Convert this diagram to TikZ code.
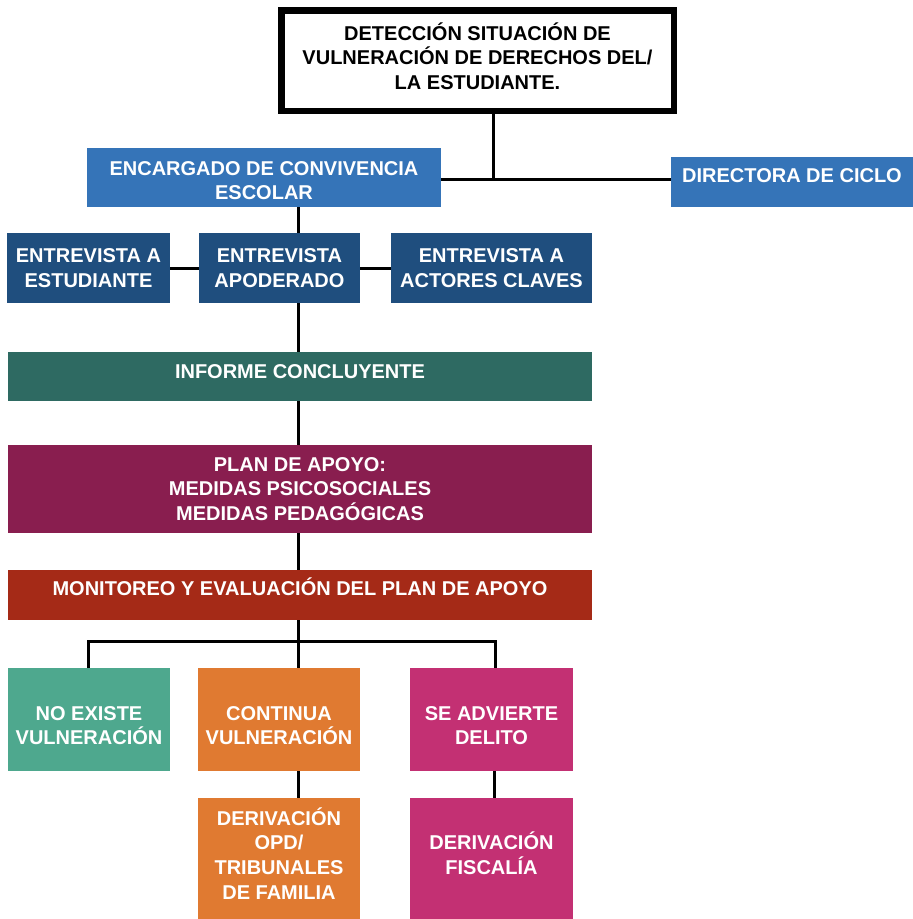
\documentclass[tikz,border=0pt]{standalone}
\usepackage{fontspec}
\setmainfont{Liberation Sans}
\definecolor{cblue}{RGB}{53,116,184}
\definecolor{cdblue}{RGB}{31,78,126}
\definecolor{cteal}{RGB}{46,106,98}
\definecolor{cplum}{RGB}{137,30,79}
\definecolor{crust}{RGB}{165,42,23}
\definecolor{cgreen}{RGB}{78,168,142}
\definecolor{corange}{RGB}{224,122,49}
\definecolor{cpink}{RGB}{195,48,115}
\newcommand{\up}[1]{\rule[-#1pt]{0pt}{0pt}}
\newcommand{\dn}[1]{\rule{0pt}{#1pt}}
\begin{document}
\begin{tikzpicture}[x=1pt,y=-1pt,
  box/.style={inner sep=0pt, outer sep=0pt, align=center, text=white,
    font=\fontsize{20}{24.8}\selectfont\bfseries},
  topbox/.style={box, draw=black, line width=6.5pt, fill=white, text=black},
  conn/.style={line width=3pt, black}]
\useasboundingbox (0,0) rectangle (913,919);
% nodes
\node[topbox, minimum width=392.5, minimum height=100.5] (top) at (477.5,60.5)
  {DETECCIÓN SITUACIÓN DE\\VULNERACIÓN DE DERECHOS DEL/\\LA ESTUDIANTE.\up{9}};
\node[box, fill=cblue, minimum width=354, minimum height=59] (enc) at (264,177.5)
  {\dn{20}ENCARGADO DE CONVIVENCIA\\ESCOLAR};
\node[box, fill=cblue, minimum width=242, minimum height=50] (dir) at (792,182)
  {DIRECTORA DE CICLO\up{13}};
\node[box, fill=cdblue, minimum width=163, minimum height=70] (est) at (88.5,268)
  {ENTREVISTA A\\ESTUDIANTE};
\node[box, fill=cdblue, minimum width=161, minimum height=70] (apo) at (279.5,268)
  {ENTREVISTA\\APODERADO};
\node[box, fill=cdblue, minimum width=201, minimum height=70] (act) at (491.5,268)
  {ENTREVISTA A\\ACTORES CLAVES};
\node[box, fill=cteal, minimum width=584, minimum height=49] (inf) at (300,376.5)
  {INFORME CONCLUYENTE\up{9}};
\node[box, fill=cplum, minimum width=584, minimum height=88] (plan) at (300,489)
  {PLAN DE APOYO:\\MEDIDAS PSICOSOCIALES\\MEDIDAS PEDAGÓGICAS};
\node[box, fill=crust, minimum width=584, minimum height=50] (mon) at (300,595)
  {MONITOREO Y EVALUACIÓN DEL PLAN DE APOYO\up{16}};
\node[box, fill=cgreen, minimum width=162, minimum height=103] (ne) at (89,719.5)
  {\dn{26}NO EXISTE\\VULNERACIÓN};
\node[box, fill=corange, minimum width=162, minimum height=103] (co) at (279,719.5)
  {\dn{26}CONTINUA\\VULNERACIÓN};
\node[box, fill=cpink, minimum width=163, minimum height=103] (se) at (491.5,719.5)
  {\dn{26}SE ADVIERTE\\DELITO};
\node[box, fill=corange, minimum width=162, minimum height=121] (opd) at (279,858.5)
  {DERIVACIÓN\\OPD/\\TRIBUNALES\\DE FAMILIA\up{10}};
\node[box, fill=cpink, minimum width=163, minimum height=121] (fis) at (491.5,858.5)
  {DERIVACIÓN\\FISCALÍA\up{10}};
% junction coordinates
\coordinate (jx) at (493,179);
\coordinate (sp) at (298,0);
\coordinate (bl) at (88,641);
\coordinate (bc) at (298,641);
\coordinate (br) at (495,641);
\coordinate (fx) at (494,0);
% connectors
\draw[conn] (top.south -| jx) -- (jx);
\draw[conn] (enc.east |- jx) -- (dir.west |- jx);
\draw[conn] (enc.south -| sp) -- (apo.north -| sp);
\draw[conn] (est.east) -- (apo.west);
\draw[conn] (apo.east) -- (act.west);
\draw[conn] (apo.south -| sp) -- (inf.north -| sp);
\draw[conn] (inf.south -| sp) -- (plan.north -| sp);
\draw[conn] (plan.south -| sp) -- (mon.north -| sp);
\draw[conn] (mon.south -| bc) -- (co.north -| bc);
\draw[conn] (ne.north -| bl) -- (bl) -- (br) -- (se.north -| br);
\draw[conn] (co.south -| sp) -- (opd.north -| sp);
\draw[conn] (se.south -| fx) -- (fis.north -| fx);
\end{tikzpicture}
\end{document}
